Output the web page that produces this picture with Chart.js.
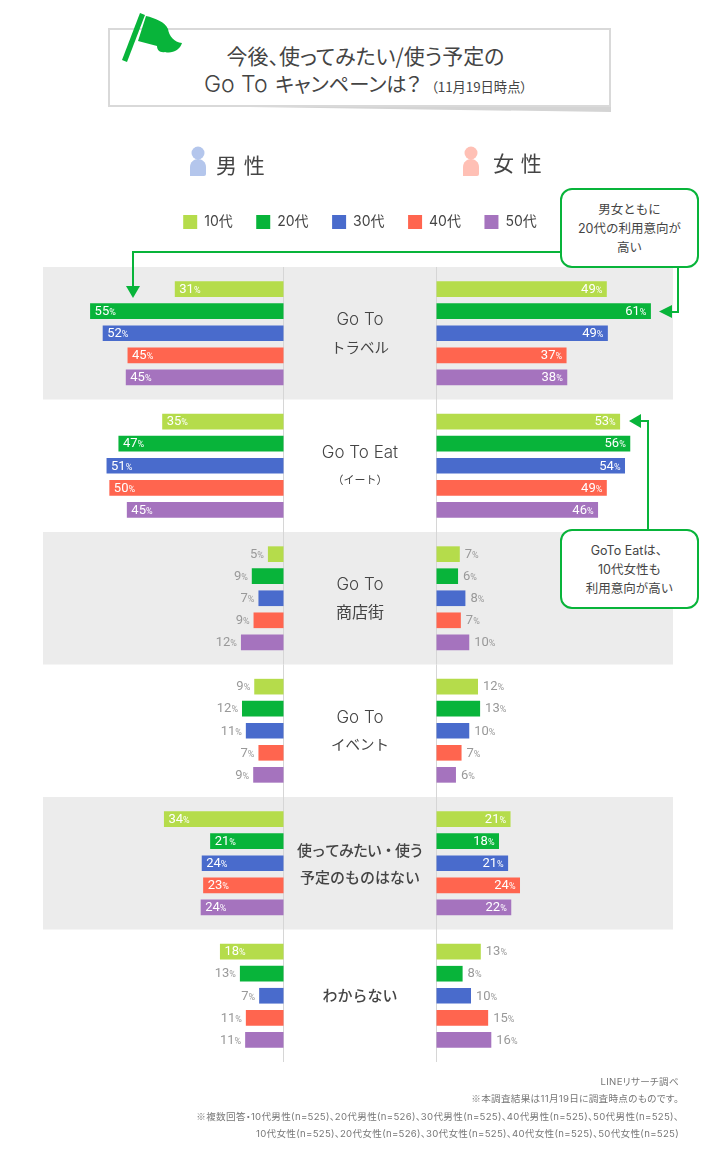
<!DOCTYPE html>
<html lang="ja">
<head>
<meta charset="utf-8">
<script src="https://cdn.jsdelivr.net/npm/chart.js@4"></script>
<style>
  html, body { margin: 0; padding: 0; background: #fff; }
  body { position: relative; width: 720px; height: 1163px; overflow: hidden; font-family: Inter, "Noto Sans CJK JP", sans-serif; color: #444; }
  canvas { position: absolute; left: 0; top: 0; }
  .abs { position: absolute; }
  .title-shadow { left: 109px; top: 100px; width: 502px; height: 12px; background: #d4d4d4; clip-path: polygon(0 42%, 100% 0, 100% 100%); }
  .title { left: 108px; top: 28px; width: 487px; height: 75px; border: 2px solid #d9d9d9; background: #fff; text-align: center; font-size: 20.3px; line-height: 28px; padding-left: 12px; font-family: "Noto Sans CJK JP", sans-serif; font-feature-settings: "palt"; }
  .title div:first-child { margin-top: 11px; font-size: 21px; }
  .title small { font-size: 13.3px; margin-left: 10px; }
  .title .latin { font-family: Inter, sans-serif; font-weight: 300; font-size: 23px; margin-right: 3px; }
  .gender { font-size: 21px; line-height: 32px; letter-spacing: 1px; font-family: "Noto Sans CJK JP", sans-serif; }
  .callout { left: 560px; width: 135px; height: 76px; border: 2px solid #08b43a; border-radius: 12px; background: #fff; font-size: 12.5px; line-height: 19px; text-align: center; display: flex; flex-direction: column; justify-content: center; }
  .notes { right: 41px; top: 1073px; text-align: right; font-size: 9.6px; line-height: 17.4px; color: #777; white-space: nowrap; letter-spacing: .3px; font-feature-settings: "palt"; }
  .notes span { font-family: "Noto Sans CJK JP", sans-serif; }
</style>
</head>
<body>
<canvas id="chart" width="720" height="1163"></canvas>

<div class="abs title-shadow"></div>
<div class="abs title">
  <div>今後、使ってみたい/使う予定の</div>
  <div><span class="latin">Go To</span> キャンペーンは？<small>（11月19日時点）</small></div>
</div>
<svg class="abs" style="left:0;top:0" width="720" height="180">
  <path d="M140 13 L145 15 L127 62 L122 60 Z" fill="#08b43a"/>
  <path d="M146 16 C155 18 165 22 168 29 C169 36 174 42 182 43 C180 50 172 54 165 52 C160 53 157 50 157 46 L138 41 Z" fill="#08b43a"/>
  <circle cx="198" cy="153" r="6.5" fill="#b4c6ec"/>
  <path d="M190 176 V167 C190 162 194 159 198 159 C202 159 206 162 206 167 V174 Q206 176 204 176 Z" fill="#b4c6ec"/>
  <circle cx="471" cy="153" r="6.5" fill="#ffc0b5"/>
  <path d="M463 176 V167 C463 162 467 159 471 159 C475 159 479 162 479 167 V174 Q479 176 477 176 Z" fill="#ffc0b5"/>
</svg>
<div class="abs gender" style="left:216px;top:148px">男 性</div>
<div class="abs gender" style="left:493px;top:146px">女 性</div>

<div class="abs callout" style="top:188px">男女ともに<br>20代の利用意向が<br>高い</div>
<div class="abs callout" style="top:529px">GoTo Eatは、<br>10代女性も<br>利用意向が高い</div>

<div class="abs notes">
  LINEリサーチ調べ<br>
  <span>※</span>本調査結果は11月19日に調査時点のものです。<br>
  <span>※</span>複数回答・10代男性(n=525)、20代男性(n=526)、30代男性(n=525)、40代男性(n=525)、50代男性(n=525)、<br>
  10代女性(n=525)、20代女性(n=526)、30代女性(n=525)、40代女性(n=525)、50代女性(n=525)
</div>

<script>
const categories = [
  ['Go To', 'トラベル'],
  ['Go To Eat', '（イート）'],
  ['Go To', '商店街'],
  ['Go To', 'イベント'],
  ['使ってみたい・使う', '予定のものはない'],
  ['わからない'],
];
const ages = ['10代', '20代', '30代', '40代', '50代'];
const ageColors = ['#b5dc4b', '#08b43a', '#496bcc', '#ff654f', '#a573be'];

// 棒の長さから読み取った値（ラベルは四捨五入で表示）
const male10 = [31.2, 34.8, 4.6, 8.5, 34.3, 18.3];
const male20 = [55.4, 47.3, 9.2, 12, 21.1, 12.6];
const male30 = [51.8, 50.7, 7.3, 10.9, 23.5, 7.1];
const male40 = [44.7, 49.9, 8.7, 7.3, 23.1, 10.9];
const male50 = [45.2, 44.9, 12.3, 8.8, 23.8, 11.1];
const female10 = [48.8, 52.6, 6.8, 12, 21.3, 12.8];
const female20 = [61.4, 55.5, 6.3, 12.6, 18, 7.6];
const female30 = [49.1, 54, 8.4, 9.5, 20.6, 10];
const female40 = [37.3, 48.8, 7.1, 7.3, 24, 14.9];
const female50 = [37.5, 46.3, 9.5, 5.7, 21.5, 15.8];

const maleSeries = [male10, male20, male30, male40, male50];
const femaleSeries = [female10, female20, female30, female40, female50];

const GREEN = '#08b43a';
const INSIDE_FROM = 18;
const JP_FONT = '"Noto Sans CJK JP", sans-serif';
const NUM_FONT = 'Roboto, sans-serif';

const makeDataset = (label, data, color, axis) => ({
  label,
  data,
  backgroundColor: color,
  xAxisID: axis,
  stack: label,
  categoryPercentage: 0.832,
  barPercentage: 0.71,
});

const datasets = [
  ...maleSeries.map((data, i) => makeDataset(ages[i], data, ageColors[i], 'xL')),
  ...femaleSeries.map((data, i) => makeDataset(ages[i], data, ageColors[i], 'xR')),
];

const valueAxis = (reverse, height) => ({
  type: 'linear',
  position: 'top',
  reverse,
  stacked: false,
  min: -124.57,
  max: 81.14,
  afterBuildTicks: scale => { scale.ticks = [{ value: 0 }]; },
  afterFit: scale => { scale.height = height; },
  ticks: { display: false },
  border: { display: false },
  grid: { color: '#d6d6d6', lineWidth: 1, drawTicks: false },
});

const arrow = (ctx, points) => {
  ctx.beginPath();
  points.forEach(([x, y], i) => (i ? ctx.lineTo(x, y) : ctx.moveTo(x, y)));
  ctx.closePath();
  ctx.fill();
};

const line = (ctx, points) => {
  ctx.beginPath();
  points.forEach(([x, y], i) => (i ? ctx.lineTo(x, y) : ctx.moveTo(x, y)));
  ctx.stroke();
};

const categoryFont = (text, i, n) => {
  if (i >= 4) return `500 15px ${JP_FONT}`;
  if (text.startsWith('Go To')) return '300 17px Inter, sans-serif';
  if (i === 1 && n === 1) return `11px ${JP_FONT}`;
  if (text === '商店街') return `16px ${JP_FONT}`;
  return `14.5px ${JP_FONT}`;
};

const decor = {
  id: 'decor',
  beforeDraw(chart) {
    const { ctx, scales: { y } } = chart;
    ctx.save();
    ctx.fillStyle = '#ececec';
    const half = (y.getPixelForValue(1) - y.getPixelForValue(0)) / 2;
    categories.forEach((_, i) => {
      if (i % 2) return;
      const mid = y.getPixelForValue(i);
      ctx.fillRect(43, mid - half, 630, half * 2);
    });
    ctx.restore();
  },
  afterDatasetsDraw(chart) {
    const { ctx, scales: { y } } = chart;
    ctx.save();

    // 棒の数値ラベル
    ctx.textBaseline = 'middle';
    chart.data.datasets.forEach((dataset, di) => {
      const isMale = dataset.xAxisID === 'xL';
      chart.getDatasetMeta(di).data.forEach((bar, i) => {
        const value = dataset.data[i];
        const num = String(Math.round(value));
        const inside = value >= INSIDE_FROM;
        ctx.font = `13px ${NUM_FONT}`;
        const numW = ctx.measureText(num).width;
        ctx.font = `9px ${NUM_FONT}`;
        const pctW = ctx.measureText('%').width;
        const total = numW + pctW;
        let left;
        if (isMale) left = inside ? bar.x + 4.5 : bar.x - 4 - total;
        else left = inside ? bar.x - 4.5 - total : bar.x + 5;
        ctx.fillStyle = inside ? '#fff' : '#999';
        ctx.textAlign = 'left';
        ctx.font = `13px ${NUM_FONT}`;
        ctx.fillText(num, left, bar.y + 0.5);
        ctx.font = `9px ${NUM_FONT}`;
        ctx.fillText('%', left + numW, bar.y + 1.5);
      });
    });

    // 中央の項目名
    ctx.textAlign = 'center';
    ctx.fillStyle = '#444';
    categories.forEach((lines, i) => {
      const mid = y.getPixelForValue(i);
      lines.forEach((text, n) => {
        const offset = lines.length === 1 ? 0 : (n ? 14 : -13);
        ctx.font = categoryFont(text, i, n);
        ctx.letterSpacing = text.includes('・') ? '-1px' : '0px';
        ctx.fillText(text, 360, mid + offset);
      });
    });

    // 吹き出しからの矢印
    ctx.strokeStyle = GREEN;
    ctx.fillStyle = GREEN;
    ctx.lineWidth = 2;
    line(ctx, [[562, 252], [133, 252], [133, 288]]);
    arrow(ctx, [[126, 286], [140, 286], [133, 298]]);
    line(ctx, [[678, 266], [678, 312], [670, 312]]);
    arrow(ctx, [[672, 305], [672, 318], [659, 311.5]]);
    line(ctx, [[648, 531], [648, 421], [640, 421]]);
    arrow(ctx, [[641, 414], [641, 428], [629, 421]]);
    ctx.restore();
  },
};

new Chart(document.getElementById('chart'), {
  type: 'bar',
  data: { labels: categories, datasets },
  plugins: [decor],
  options: {
    indexAxis: 'y',
    responsive: false,
    animation: false,
    layout: { padding: { top: 191.5, bottom: 101, left: 0, right: 0 } },
    scales: {
      y: { type: 'category', display: false },
      xL: valueAxis(true, 28),
      xR: valueAxis(false, 0),
    },
    plugins: {
      tooltip: { enabled: false },
      legend: {
        position: 'top',
        labels: {
          boxWidth: 14,
          boxHeight: 14,
          padding: 23.5,
          color: '#444',
          font: { family: 'Inter, "Noto Sans CJK JP", sans-serif', size: 14 },
          filter: item => item.datasetIndex < 5,
        },
      },
    },
  },
});
</script>
</body>
</html>
